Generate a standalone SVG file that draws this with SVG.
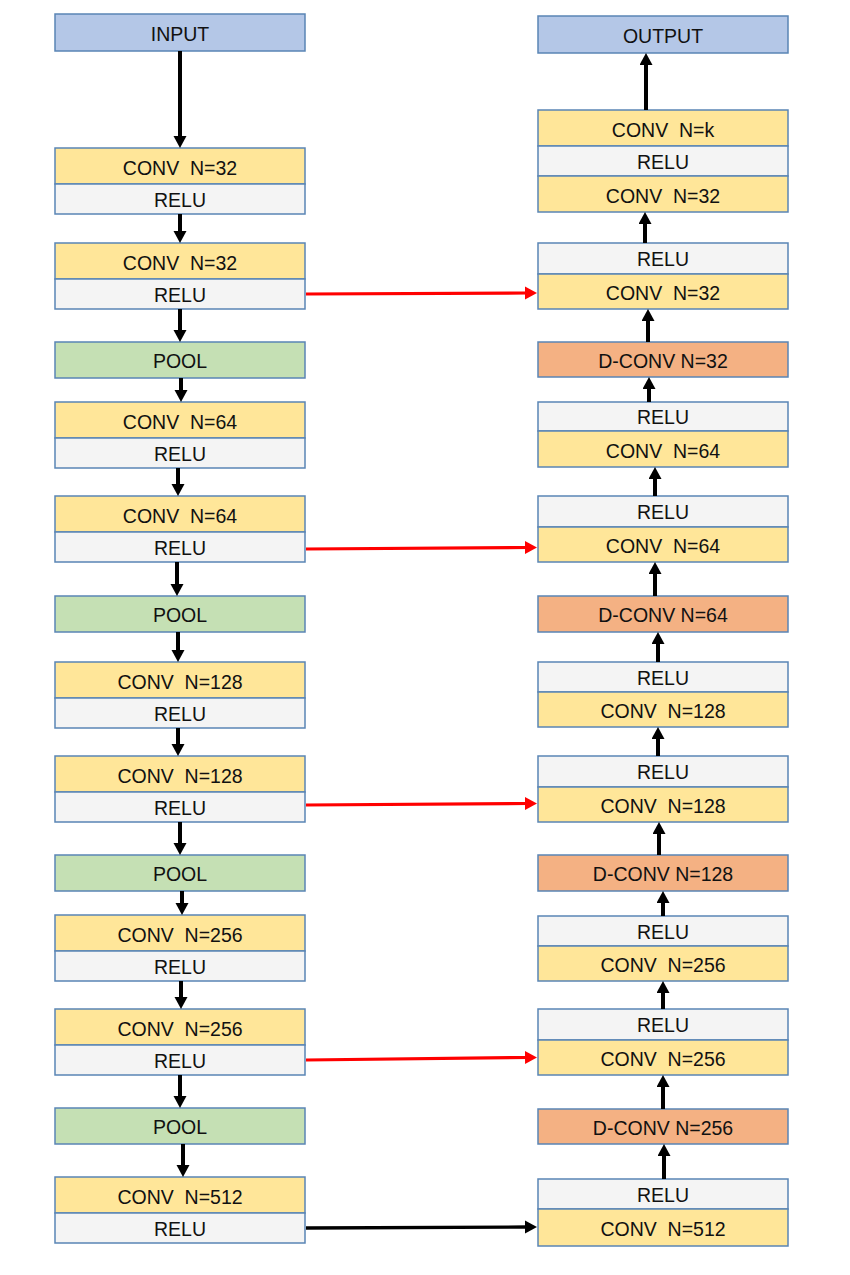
<svg xmlns="http://www.w3.org/2000/svg" width="850" height="1275" viewBox="0 0 850 1275">
  <style>
    .cell { stroke: #5A85B5; stroke-width: 1.5; }
    .io { fill: #B4C7E7; }
    .conv { fill: #FFE699; }
    .relu { fill: #F4F4F4; }
    .pool { fill: #C5E0B4; }
    .dconv { fill: #F4B183; }
    text { font-family: "Liberation Sans", Arial, sans-serif; font-size: 19.5px; fill: #111; text-anchor: middle; white-space: pre; }
    .arrow { stroke: #000; stroke-width: 4; fill: none; marker-end: url(#headBlack); }
    .skip { stroke: #FF0000; stroke-width: 3.2; fill: none; marker-end: url(#headRed); }
    .bridge { stroke: #000; stroke-width: 3.4; fill: none; marker-end: url(#headBlack); }
  </style>
  <defs>
    <marker id="headBlack" markerUnits="userSpaceOnUse" markerWidth="14" markerHeight="14" refX="2" refY="6.5" orient="auto">
      <path d="M0,0 L12,6.5 L0,13 z" fill="#000"/>
    </marker>
    <marker id="headRed" markerUnits="userSpaceOnUse" markerWidth="14" markerHeight="14" refX="2" refY="6.5" orient="auto">
      <path d="M0,0 L12,6.5 L0,13 z" fill="#FF0000"/>
    </marker>
  </defs>

  <rect width="850" height="1275" fill="#FFFFFF"/>

  <!-- encoder column -->
  <g id="input">
    <rect class="cell io" x="55" y="14" width="250" height="37"/>
    <text x="180" y="40.5">INPUT</text>
  </g>
  <g id="enc1">
    <rect class="cell conv" x="55" y="148" width="250" height="36"/>
    <rect class="cell relu" x="55" y="184" width="250" height="30"/>
    <text x="180" y="174.5" xml:space="preserve">CONV  N=32</text>
    <text x="180" y="206.5">RELU</text>
  </g>
  <g id="enc2">
    <rect class="cell conv" x="55" y="243" width="250" height="36"/>
    <rect class="cell relu" x="55" y="279" width="250" height="30"/>
    <text x="180" y="269.5" xml:space="preserve">CONV  N=32</text>
    <text x="180" y="301.5">RELU</text>
  </g>
  <g id="pool1">
    <rect class="cell pool" x="55" y="342" width="250" height="36"/>
    <text x="180" y="368">POOL</text>
  </g>
  <g id="enc3">
    <rect class="cell conv" x="55" y="402" width="250" height="36"/>
    <rect class="cell relu" x="55" y="438" width="250" height="30"/>
    <text x="180" y="428.5" xml:space="preserve">CONV  N=64</text>
    <text x="180" y="460.5">RELU</text>
  </g>
  <g id="enc4">
    <rect class="cell conv" x="55" y="496" width="250" height="36"/>
    <rect class="cell relu" x="55" y="532" width="250" height="30"/>
    <text x="180" y="522.5" xml:space="preserve">CONV  N=64</text>
    <text x="180" y="554.5">RELU</text>
  </g>
  <g id="pool2">
    <rect class="cell pool" x="55" y="596" width="250" height="36"/>
    <text x="180" y="622">POOL</text>
  </g>
  <g id="enc5">
    <rect class="cell conv" x="55" y="662" width="250" height="36"/>
    <rect class="cell relu" x="55" y="698" width="250" height="30"/>
    <text x="180" y="688.5" xml:space="preserve">CONV  N=128</text>
    <text x="180" y="720.5">RELU</text>
  </g>
  <g id="enc6">
    <rect class="cell conv" x="55" y="756" width="250" height="36"/>
    <rect class="cell relu" x="55" y="792" width="250" height="30"/>
    <text x="180" y="782.5" xml:space="preserve">CONV  N=128</text>
    <text x="180" y="814.5">RELU</text>
  </g>
  <g id="pool3">
    <rect class="cell pool" x="55" y="855" width="250" height="36"/>
    <text x="180" y="881">POOL</text>
  </g>
  <g id="enc7">
    <rect class="cell conv" x="55" y="915" width="250" height="36"/>
    <rect class="cell relu" x="55" y="951" width="250" height="30"/>
    <text x="180" y="941.5" xml:space="preserve">CONV  N=256</text>
    <text x="180" y="973.5">RELU</text>
  </g>
  <g id="enc8">
    <rect class="cell conv" x="55" y="1009" width="250" height="36"/>
    <rect class="cell relu" x="55" y="1045" width="250" height="30"/>
    <text x="180" y="1035.5" xml:space="preserve">CONV  N=256</text>
    <text x="180" y="1067.5">RELU</text>
  </g>
  <g id="pool4">
    <rect class="cell pool" x="55" y="1108" width="250" height="36"/>
    <text x="180" y="1134">POOL</text>
  </g>
  <g id="enc9">
    <rect class="cell conv" x="55" y="1177" width="250" height="36"/>
    <rect class="cell relu" x="55" y="1213" width="250" height="30"/>
    <text x="180" y="1203.5" xml:space="preserve">CONV  N=512</text>
    <text x="180" y="1235.5">RELU</text>
  </g>

  <!-- decoder column -->
  <g id="output">
    <rect class="cell io" x="538" y="16" width="250" height="37"/>
    <text x="663" y="42.5">OUTPUT</text>
  </g>
  <g id="dec1">
    <rect class="cell conv" x="538" y="110" width="250" height="36"/>
    <rect class="cell relu" x="538" y="146" width="250" height="30"/>
    <rect class="cell conv" x="538" y="176" width="250" height="36"/>
    <text x="663" y="136.5" xml:space="preserve">CONV  N=k</text>
    <text x="663" y="168.5">RELU</text>
    <text x="663" y="202.5" xml:space="preserve">CONV  N=32</text>
  </g>
  <g id="dec2">
    <rect class="cell relu" x="538" y="243" width="250" height="31"/>
    <rect class="cell conv" x="538" y="274" width="250" height="35"/>
    <text x="663" y="266">RELU</text>
    <text x="663" y="299.5" xml:space="preserve">CONV  N=32</text>
  </g>
  <g id="dconv1">
    <rect class="cell dconv" x="538" y="342" width="250" height="35"/>
    <text x="663" y="367.5">D-CONV N=32</text>
  </g>
  <g id="dec3">
    <rect class="cell relu" x="538" y="402" width="250" height="29"/>
    <rect class="cell conv" x="538" y="431" width="250" height="36"/>
    <text x="663" y="424">RELU</text>
    <text x="663" y="457.5" xml:space="preserve">CONV  N=64</text>
  </g>
  <g id="dec4">
    <rect class="cell relu" x="538" y="496" width="250" height="31"/>
    <rect class="cell conv" x="538" y="527" width="250" height="35"/>
    <text x="663" y="519">RELU</text>
    <text x="663" y="552.5" xml:space="preserve">CONV  N=64</text>
  </g>
  <g id="dconv2">
    <rect class="cell dconv" x="538" y="596" width="250" height="36"/>
    <text x="663" y="622">D-CONV N=64</text>
  </g>
  <g id="dec5">
    <rect class="cell relu" x="538" y="662" width="250" height="30"/>
    <rect class="cell conv" x="538" y="692" width="250" height="35"/>
    <text x="663" y="684.5">RELU</text>
    <text x="663" y="717.5" xml:space="preserve">CONV  N=128</text>
  </g>
  <g id="dec6">
    <rect class="cell relu" x="538" y="756" width="250" height="31"/>
    <rect class="cell conv" x="538" y="787" width="250" height="35"/>
    <text x="663" y="779">RELU</text>
    <text x="663" y="812.5" xml:space="preserve">CONV  N=128</text>
  </g>
  <g id="dconv3">
    <rect class="cell dconv" x="538" y="855" width="250" height="36"/>
    <text x="663" y="881">D-CONV N=128</text>
  </g>
  <g id="dec7">
    <rect class="cell relu" x="538" y="916" width="250" height="30"/>
    <rect class="cell conv" x="538" y="946" width="250" height="35"/>
    <text x="663" y="938.5">RELU</text>
    <text x="663" y="971.5" xml:space="preserve">CONV  N=256</text>
  </g>
  <g id="dec8">
    <rect class="cell relu" x="538" y="1009" width="250" height="31"/>
    <rect class="cell conv" x="538" y="1040" width="250" height="35"/>
    <text x="663" y="1032">RELU</text>
    <text x="663" y="1065.5" xml:space="preserve">CONV  N=256</text>
  </g>
  <g id="dconv4">
    <rect class="cell dconv" x="538" y="1109" width="250" height="35"/>
    <text x="663" y="1134.5">D-CONV N=256</text>
  </g>
  <g id="dec9">
    <rect class="cell relu" x="538" y="1179" width="250" height="30"/>
    <rect class="cell conv" x="538" y="1209" width="250" height="37"/>
    <text x="663" y="1201.5">RELU</text>
    <text x="663" y="1235.5" xml:space="preserve">CONV  N=512</text>
  </g>

  <!-- connectors: each line stops 10px short; the marker supplies the tip -->
  <g id="connectors">
    <!-- encoder, downward -->
    <line class="arrow" x1="180" y1="51" x2="180" y2="138"/>
    <line class="arrow" x1="180" y1="214" x2="180" y2="233"/>
    <line class="arrow" x1="180" y1="309" x2="180" y2="332"/>
    <line class="arrow" x1="181" y1="378" x2="181" y2="392"/>
    <line class="arrow" x1="178" y1="468" x2="178" y2="486"/>
    <line class="arrow" x1="177" y1="562" x2="177" y2="586"/>
    <line class="arrow" x1="178" y1="632" x2="178" y2="652"/>
    <line class="arrow" x1="178" y1="728" x2="178" y2="746"/>
    <line class="arrow" x1="180" y1="822" x2="180" y2="845"/>
    <line class="arrow" x1="182" y1="891" x2="182" y2="905"/>
    <line class="arrow" x1="181" y1="981" x2="181" y2="999"/>
    <line class="arrow" x1="180" y1="1075" x2="180" y2="1098"/>
    <line class="arrow" x1="183" y1="1144" x2="183" y2="1167"/>

    <!-- decoder, upward -->
    <line class="arrow" x1="646" y1="110" x2="646" y2="63"/>
    <line class="arrow" x1="645" y1="243" x2="645" y2="222"/>
    <line class="arrow" x1="648" y1="342" x2="648" y2="319"/>
    <line class="arrow" x1="649" y1="402" x2="649" y2="387"/>
    <line class="arrow" x1="655" y1="496" x2="655" y2="477"/>
    <line class="arrow" x1="655" y1="596" x2="655" y2="572"/>
    <line class="arrow" x1="658" y1="662" x2="658" y2="642"/>
    <line class="arrow" x1="658" y1="756" x2="658" y2="737"/>
    <line class="arrow" x1="659" y1="855" x2="659" y2="832"/>
    <line class="arrow" x1="663" y1="916" x2="663" y2="901"/>
    <line class="arrow" x1="663" y1="1009" x2="663" y2="991"/>
    <line class="arrow" x1="663" y1="1109" x2="663" y2="1085"/>
    <line class="arrow" x1="664" y1="1179" x2="664" y2="1154"/>

    <!-- skip connections -->
    <line class="skip" x1="306" y1="294" x2="527" y2="293"/>
    <line class="skip" x1="306" y1="549" x2="527" y2="547.5"/>
    <line class="skip" x1="306" y1="805" x2="527" y2="803.5"/>
    <line class="skip" x1="306" y1="1060" x2="527" y2="1057.5"/>

    <!-- bottleneck -->
    <line class="bridge" x1="306" y1="1228" x2="527" y2="1227"/>
  </g>
</svg>
